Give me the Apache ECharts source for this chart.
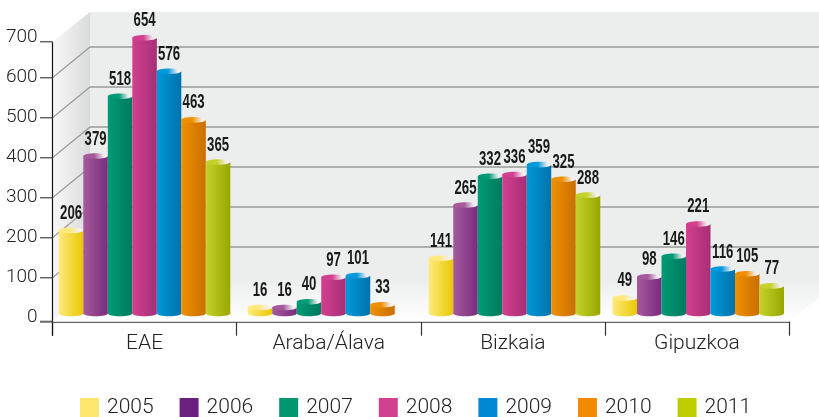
<!DOCTYPE html>
<html><head><meta charset="utf-8">
<style>html,body{margin:0;padding:0;background:#fff}#c{width:819px;height:417px}</style>
<script src="https://cdn.jsdelivr.net/npm/echarts@6/dist/echarts.min.js"></script>
</head><body><div id="c"></div>
<script>
var categories = ['EAE', 'Araba/Álava', 'Bizkaia', 'Gipuzkoa'];
var years = ['2005', '2006', '2007', '2008', '2009', '2010', '2011'];
var v2005 = [206, 16, 141, 49];
var v2006 = [379, 16, 265, 98];
var v2007 = [518, 40, 332, 146];
var v2008 = [654, 97, 336, 221];
var v2009 = [576, 101, 359, 116];
var v2010 = [463, 33, 325, 105];
var v2011 = [365, null, 288, 77];
var allValues = [v2005, v2006, v2007, v2008, v2009, v2010, v2011];
var yTicks = [0, 100, 200, 300, 400, 500, 600, 700];

var swatch = ['#FFE66F', '#6B1F7F', '#00966F', '#D0428F', '#0088D4', '#F28A00', '#BDCD00'];
var light = ['#FFE97C', '#A65A9C', '#009B76', '#D2408F', '#0099DA', '#F09000', '#C6D22C'];
var dark = ['#E8C800', '#7A2B7E', '#007A5E', '#A62F75', '#0072AB', '#C86F00', '#97A600'];
var groupNudge = [0, 4.8, 1.7, 1.3];
var FONT = 'Roboto,"Liberation Sans",sans-serif';

var AX = 52.5, BACKX = 90, RIGHT = 819, DX0 = 30.7, BARW = 24.5;
function hg(a, b) { return { type: 'linear', x: 0, y: 0, x2: 1, y2: 0, colorStops: [{ offset: 0, color: a }, { offset: 1, color: b }] }; }
function vg(a, b) { return { type: 'linear', x: 0, y: 0, x2: 0, y2: 1, colorStops: [{ offset: 0, color: a }, { offset: 1, color: b }] }; }
function topFill(c) {
  return { type: 'linear', x: 0, y: 0, x2: 1, y2: 0, colorStops: [{ offset: 0, color: c }, { offset: 0.45, color: c }, { offset: 0.85, color: '#F4EFF2' }, { offset: 1, color: '#F4EFF2' }] };
}

function renderFrame(params, api) {
  var val = api.value(0);
  var y = api.coord([0, val])[1];
  var kids = [];
  var tickY = (val === 0 || val === 700) ? y + 4 : y;
  var backY = y - DX0;
  if (params.dataIndex === 0) {
    var top = api.coord([0, 700])[1];
    var zero = y;
    kids.push({ type: 'polygon', z2: 0, shape: { points: [[AX, top + 4], [BACKX, top - 25.7], [BACKX, zero - DX0], [AX, zero + 4]] }, style: { fill: hg('#F8F8F8', '#D9DADC') } });
    kids.push({ type: 'rect', z2: 0, shape: { x: BACKX, y: top - 25.7, width: RIGHT - BACKX, height: zero - DX0 - top + 25.7 }, style: { fill: '#ECEDED' } });
    kids.push({ type: 'polygon', z2: 1, shape: { points: [[AX, zero + 4], [BACKX, zero - DX0 - 8], [RIGHT, zero - DX0 - 8], [RIGHT, zero - 20], [789, zero + 4]] }, style: { fill: vg('#ECEDED', '#FFFFFF') } });
    kids.push({ type: 'line', z2: 3, shape: { x1: AX, y1: top + 4, x2: AX, y2: zero + 18 }, style: { stroke: '#111', lineWidth: 1.2 } });
  }
  if (val !== 0 && val !== 700) {
    kids.push({ type: 'line', z2: 2, shape: { x1: AX, y1: tickY, x2: BACKX, y2: backY }, style: { stroke: '#999', lineWidth: 1.1 } });
    kids.push({ type: 'line', z2: 2, shape: { x1: BACKX, y1: backY, x2: RIGHT, y2: backY }, style: { stroke: '#999', lineWidth: 1.3 } });
  }
  kids.push({ type: 'line', z2: 3, shape: { x1: 40, y1: tickY, x2: AX, y2: tickY }, style: { stroke: '#666', lineWidth: val === 0 ? 2 : 1.5 } });
  return { type: 'group', children: kids };
}

function renderBar(yearIndex) {
  return function (params, api) {
    var cat = api.value(0), val = api.value(1);
    var cx = api.coord([cat, 0])[0] + (yearIndex - 3) * BARW + groupNudge[cat];
    var base = 313.5;
    var yTop = Math.min(api.coord([cat, val])[1], base - 6);
    var rx = BARW / 2, ry = 2.8;
    var l = cx - rx;
    return {
      type: 'group',
      children: [
        { type: 'ellipse', shape: { cx: cx, cy: base, rx: rx, ry: ry }, style: { fill: hg(light[yearIndex], dark[yearIndex]) } },
        { type: 'rect', shape: { x: l, y: yTop, width: BARW, height: base - yTop }, style: { fill: hg(light[yearIndex], dark[yearIndex]) } },
        { type: 'ellipse', shape: { cx: cx, cy: yTop, rx: rx, ry: ry }, style: { fill: topFill(light[yearIndex]) } },
        {
          type: 'text', z2: 100, x: cx, y: yTop - 17, scaleX: 0.66,
          style: { text: String(val), fontFamily: '"Liberation Sans",sans-serif', fontWeight: 'bold', fontSize: 20, fill: '#1a1a1a', textAlign: 'center', textVerticalAlign: 'middle' }
        }
      ]
    };
  };
}

var series = [{
  type: 'custom', xAxisIndex: 0, yAxisIndex: 0, silent: true, clip: false, z: 1,
  legendHoverLink: false, renderItem: renderFrame,
  data: yTicks.map(function (t) { return [t]; }), encode: { y: 0 }, name: 'frame'
}];
years.forEach(function (yr, i) {
  series.push({
    type: 'custom', name: yr, xAxisIndex: 1, yAxisIndex: 1, z: 2, clip: false,
    itemStyle: { color: swatch[i] }, renderItem: renderBar(i),
    encode: { x: 0, y: 1 },
    data: allValues[i].map(function (v, c) { return v === null ? null : [c, v]; }).filter(Boolean)
  });
});

var chart = echarts.init(document.getElementById('c'), null, { renderer: 'canvas' });
chart.setOption({
  animation: false,
  backgroundColor: '#fff',
  legend: {
    data: years.map(function (y, i) { return { name: y, icon: 'rect', itemStyle: { color: swatch[i] } }; }),
    left: 80, top: 397, itemWidth: 19, itemHeight: 19, itemGap: 26, selectedMode: false,
    textStyle: { fontFamily: FONT, fontWeight: 300, fontSize: 21, color: '#222', padding: [1, 0, 0, 3] }, padding: 0
  },
  grid: [
    { left: AX, width: 736.5, top: 37.7, height: 280 },
    { left: AX, width: 736.5, top: 18, height: 301 }
  ],
  xAxis: [
    {
      type: 'category', gridIndex: 0, data: categories, offset: 4, boundaryGap: true,
      axisLine: { show: true, onZero: false, lineStyle: { color: '#666', width: 2 } },
      axisTick: { show: true, alignWithLabel: false, length: 14, lineStyle: { color: '#333', width: 1.2 } },
      axisLabel: { fontFamily: FONT, fontWeight: 300, fontSize: 21, color: '#222', margin: 12 }
    },
    { type: 'category', gridIndex: 1, data: categories, show: false }
  ],
  yAxis: [
    {
      type: 'value', gridIndex: 0, min: 0, max: 700, interval: 100, position: 'left',
      axisLine: { show: false }, axisTick: { show: false }, splitLine: { show: false },
      axisLabel: { fontFamily: FONT, fontWeight: 300, fontSize: 19, color: '#222', margin: 15 }
    },
    { type: 'value', gridIndex: 1, min: 0, max: 700, interval: 100, show: false, splitLine: { show: false } }
  ],
  series: series
});
</script></body></html>
